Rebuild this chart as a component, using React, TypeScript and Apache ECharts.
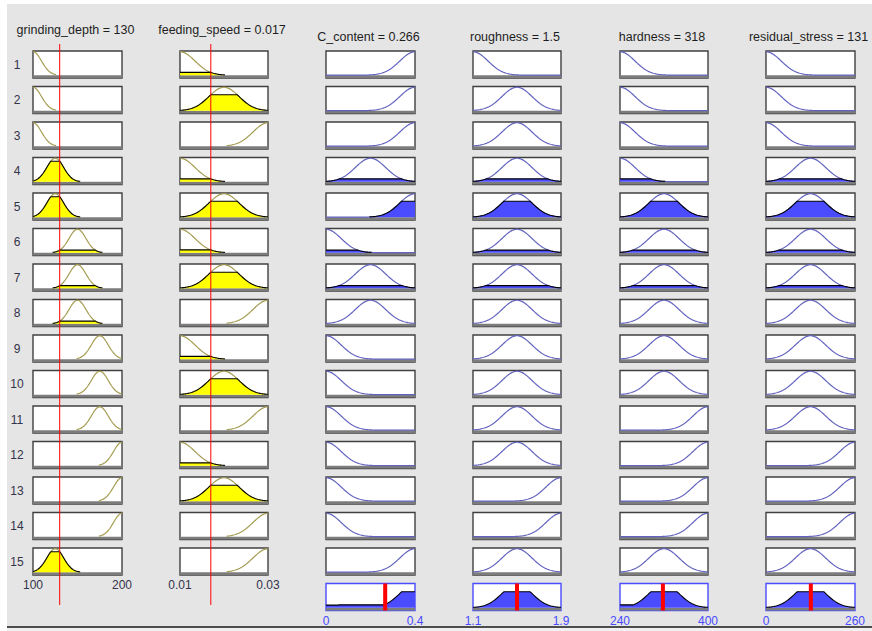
import React, { useEffect, useRef } from 'react';
import * as echarts from 'echarts';

// ---------------- data ----------------
const inputNames = ['grinding_depth', 'feeding_speed'];
const inputValueLabels = ['130', '0.017'];
const inputValues = [130, 0.017];
const inputMins = [100, 0.01];
const inputMaxs = [200, 0.03];
const inputTickLabels = [['100', '200'], ['0.01', '0.03']];
const grindingCenters = [100, 125, 150, 175, 200];
const feedingCenters = [0.01, 0.02, 0.03];
const inputSigmas = [9.5, 0.0034];

const outputNames = ['C_content', 'roughness', 'hardness', 'residual_stress'];
const outputValueLabels = ['0.266', '1.5', '318', '131'];
const outputValues = [0.266, 1.5, 318, 131];
const outputMins = [0, 1.1, 240, 0];
const outputMaxs = [0.4, 1.9, 400, 260];
const outputTickLabels = [['0', '0.4'], ['1.1', '1.9'], ['240', '400'], ['0', '260']];
const cContentCenters = [0, 0.2, 0.4];
const roughnessCenters = [1.1, 1.5, 1.9];
const hardnessCenters = [240, 320, 400];
const stressCenters = [0, 130, 260];
const outputSigmas = [0.068, 0.136, 27.2, 44.2];

// rule table (1-based membership function indices), rules 1..15
const ruleGrinding = [1, 1, 1, 2, 2, 3, 3, 3, 4, 4, 4, 5, 5, 5, 2];
const ruleFeeding = [1, 2, 3, 1, 2, 1, 2, 3, 1, 2, 3, 1, 2, 3, 3];
const ruleC = [3, 3, 3, 2, 3, 1, 2, 2, 1, 1, 1, 1, 1, 1, 3];
const ruleRough = [1, 2, 2, 2, 2, 2, 2, 2, 2, 2, 2, 2, 3, 3, 2];
const ruleHard = [1, 1, 1, 1, 2, 2, 2, 2, 2, 2, 3, 3, 3, 3, 2];
const ruleStress = [1, 1, 1, 2, 2, 2, 2, 2, 2, 2, 2, 3, 3, 3, 2];

// ---------------- layout / style ----------------
const COL_LEFT = [33, 180, 326, 473, 620, 766];
const COL_W = [89, 88, 89, 88, 88, 89];
const ROW_TOP = 51;
const ROW_PITCH = 35.5;
const BOX_H = 27;
const Y_MIN = -0.12;
const Y_MAX = 1.03;
const N = 101;
const FONT = '"Liberation Sans", Arial, sans-serif';

const IN_LINE = '#a49c50';
const IN_FILL = '#ffff00';
const OUT_LINE = '#6262bf';
const OUT_FILL = '#4b4bff';
const BAND = '#7c7c7c';

const gauss = (x: number, c: number, s: number) => Math.exp(-((x - c) * (x - c)) / (2 * s * s));
const samples = (min: number, max: number) =>
  Array.from({ length: N }, (_, k) => min + ((max - min) * k) / (N - 1));

function buildOption() {
  const inputCenters = [grindingCenters, feedingCenters];
  const inputRules = [ruleGrinding, ruleFeeding];
  const outputCenters = [cContentCenters, roughnessCenters, hardnessCenters, stressCenters];
  const outputRules = [ruleC, ruleRough, ruleHard, ruleStress];
  const nRules = ruleGrinding.length;

  const mu = inputRules.map((rules, v) =>
    rules.map((m) => gauss(inputValues[v], inputCenters[v][m - 1], inputSigmas[v]))
  );
  const firing = Array.from({ length: nRules }, (_, r) => Math.min(mu[0][r], mu[1][r]));

  const grid: any[] = [];
  const xAxis: any[] = [];
  const yAxis: any[] = [];
  const series: any[] = [];
  const graphic: any[] = [];

  const addCell = (
    left: number, top: number, width: number, height: number,
    min: number, max: number, border: string,
    ticks: string[] | null, tickColor: string
  ) => {
    const i = grid.length;
    grid.push({ left, top, width, height, show: true, backgroundColor: '#ffffff', borderColor: border, borderWidth: 1.4 });
    xAxis.push({
      gridIndex: i, type: 'value', min, max, interval: max - min,
      axisLine: { show: false }, axisTick: { show: false }, splitLine: { show: false },
      axisLabel: ticks
        ? {
            show: true, margin: 4, color: tickColor, fontSize: 12, fontFamily: FONT,
            showMinLabel: true, showMaxLabel: true,
            formatter: (val: number) => {
              const tol = (max - min) * 1e-6;
              if (Math.abs(val - min) < tol) return ticks[0];
              if (Math.abs(val - max) < tol) return ticks[1];
              return '';
            },
          }
        : { show: false },
    });
    yAxis.push({ gridIndex: i, type: 'value', min: Y_MIN, max: Y_MAX, show: false, splitLine: { show: false } });
    return i;
  };

  const band = {
    silent: true,
    itemStyle: { color: BAND },
    data: [[{ yAxis: Y_MIN }, { yAxis: 0 }]],
  };

  // ---- input columns ----
  for (let r = 0; r < nRules; r++) {
    for (let v = 0; v < 2; v++) {
      const min = inputMins[v], max = inputMaxs[v];
      const c = inputCenters[v][inputRules[v][r] - 1];
      const s = inputSigmas[v];
      const g = addCell(COL_LEFT[v], ROW_TOP + r * ROW_PITCH, COL_W[v], BOX_H, min, max, '#404040',
        r === nRules - 1 ? inputTickLabels[v] : null, '#33334a');
      const xs = samples(min, max);
      series.push({
        type: 'line', xAxisIndex: g, yAxisIndex: g, silent: true, showSymbol: false, z: 3,
        lineStyle: { color: IN_LINE, width: 1.2 },
        data: xs.map((x) => { const y = gauss(x, c, s); return [x, y > 0.02 ? y : '-']; }),
        markArea: band,
      });
      const m = mu[v][r];
      if (m > 0.01) {
        series.push({
          type: 'line', xAxisIndex: g, yAxisIndex: g, silent: true, showSymbol: false, z: 4,
          lineStyle: { color: '#000000', width: 1.1 },
          areaStyle: { color: IN_FILL, opacity: 1 },
          data: xs.map((x) => { const y = Math.min(gauss(x, c, s), m); return [x, y > 0.01 ? y : '-']; }),
        });
      }
    }
  }

  // ---- output columns ----
  for (let r = 0; r < nRules; r++) {
    for (let o = 0; o < 4; o++) {
      const col = o + 2;
      const min = outputMins[o], max = outputMaxs[o];
      const c = outputCenters[o][outputRules[o][r] - 1];
      const s = outputSigmas[o];
      const g = addCell(COL_LEFT[col], ROW_TOP + r * ROW_PITCH, COL_W[col], BOX_H, min, max, '#404040', null, '#000');
      const xs = samples(min, max);
      series.push({
        type: 'line', xAxisIndex: g, yAxisIndex: g, silent: true, showSymbol: false, z: 3,
        lineStyle: { color: OUT_LINE, width: 1.2 },
        data: xs.map((x) => [x, gauss(x, c, s)]),
        markArea: band,
      });
      const w = firing[r];
      if (w > 0.01) {
        series.push({
          type: 'line', xAxisIndex: g, yAxisIndex: g, silent: true, showSymbol: false, z: 4,
          lineStyle: { color: '#000000', width: 1.1 },
          areaStyle: { color: OUT_FILL, opacity: 1 },
          data: xs.map((x) => { const y = Math.min(gauss(x, c, s), w); return [x, y > 0.01 ? y : '-']; }),
        });
      }
    }
  }

  // ---- aggregated outputs ----
  const aggTop = ROW_TOP + nRules * ROW_PITCH;
  for (let o = 0; o < 4; o++) {
    const col = o + 2;
    const min = outputMins[o], max = outputMaxs[o];
    const g = addCell(COL_LEFT[col], aggTop, COL_W[col], BOX_H, min, max, '#4c4cff', outputTickLabels[o], '#4a4aff');
    const xs = samples(min, max);
    const agg = xs.map((x) => {
      let y = 0;
      for (let r = 0; r < nRules; r++) {
        const c = outputCenters[o][outputRules[o][r] - 1];
        y = Math.max(y, Math.min(gauss(x, c, outputSigmas[o]), firing[r]));
      }
      return [x, y];
    });
    series.push({
      type: 'line', xAxisIndex: g, yAxisIndex: g, silent: true, showSymbol: false, z: 4,
      lineStyle: { color: '#000000', width: 1.1 },
      areaStyle: { color: OUT_FILL, opacity: 1 },
      data: agg,
      markArea: band,
    });
    series.push({
      type: 'line', xAxisIndex: g, yAxisIndex: g, silent: true, showSymbol: false, z: 6,
      lineStyle: { color: '#ff0000', width: 4 },
      data: [[outputValues[o], Y_MIN], [outputValues[o], Y_MAX]],
    });
  }

  // ---- input value lines (span whole column) ----
  for (let v = 0; v < 2; v++) {
    const i = grid.length;
    grid.push({ left: COL_LEFT[v], top: 44, width: COL_W[v], height: 561, show: false });
    xAxis.push({ gridIndex: i, type: 'value', min: inputMins[v], max: inputMaxs[v], show: false, splitLine: { show: false } });
    yAxis.push({ gridIndex: i, type: 'value', min: 0, max: 1, show: false, splitLine: { show: false } });
    series.push({
      type: 'line', xAxisIndex: i, yAxisIndex: i, silent: true, showSymbol: false, z: 10,
      lineStyle: { color: '#ff0000', width: 1 },
      data: [[inputValues[v], 0], [inputValues[v], 1]],
    });
  }

  // ---- background & texts ----
  graphic.push({ type: 'rect', z: -100, silent: true, shape: { x: 7, y: 4, width: 865, height: 622 }, style: { fill: '#e5e5e5' } });
  graphic.push({ type: 'rect', z: -100, silent: true, shape: { x: 7, y: 628, width: 865, height: 3 }, style: { fill: '#f0f0f0' } });
  graphic.push({ type: 'line', z: -99, silent: true, shape: { x1: 7, y1: 627, x2: 872, y2: 627 }, style: { stroke: '#4d4d4d', lineWidth: 2 } });

  const titleText = (text: string, cx: number, cy: number) => ({
    type: 'text', x: cx, y: cy, z: 20, silent: true,
    style: { text, fill: '#1e1e1e', font: `12.5px ${FONT}`, textAlign: 'center', textVerticalAlign: 'middle', align: 'center', verticalAlign: 'middle' },
  });
  for (let v = 0; v < 2; v++) {
    graphic.push(titleText(`${inputNames[v]} = ${inputValueLabels[v]}`, COL_LEFT[v] + COL_W[v] / 2 - 2, 30));
  }
  for (let o = 0; o < 4; o++) {
    graphic.push(titleText(`${outputNames[o]} = ${outputValueLabels[o]}`, COL_LEFT[o + 2] + COL_W[o + 2] / 2 - 2, 37));
  }
  for (let r = 0; r < nRules; r++) {
    graphic.push({
      type: 'text', x: 17, y: ROW_TOP + r * ROW_PITCH + BOX_H / 2, z: 20, silent: true,
      style: { text: String(r + 1), fill: '#33334a', font: `12px ${FONT}`, textAlign: 'center', textVerticalAlign: 'middle', align: 'center', verticalAlign: 'middle' },
    });
  }

  return {
    animation: false,
    backgroundColor: '#ffffff',
    grid, xAxis, yAxis, series, graphic,
  };
}

export default function App() {
  const ref = useRef<HTMLDivElement>(null);
  useEffect(() => {
    if (!ref.current) return;
    const chart = echarts.init(ref.current, null, { renderer: 'svg' });
    chart.setOption(buildOption() as any);
    return () => chart.dispose();
  }, []);
  return <div ref={ref} style={{ position: 'fixed', left: 0, top: 0, width: 872, height: 631 }} />;
}
